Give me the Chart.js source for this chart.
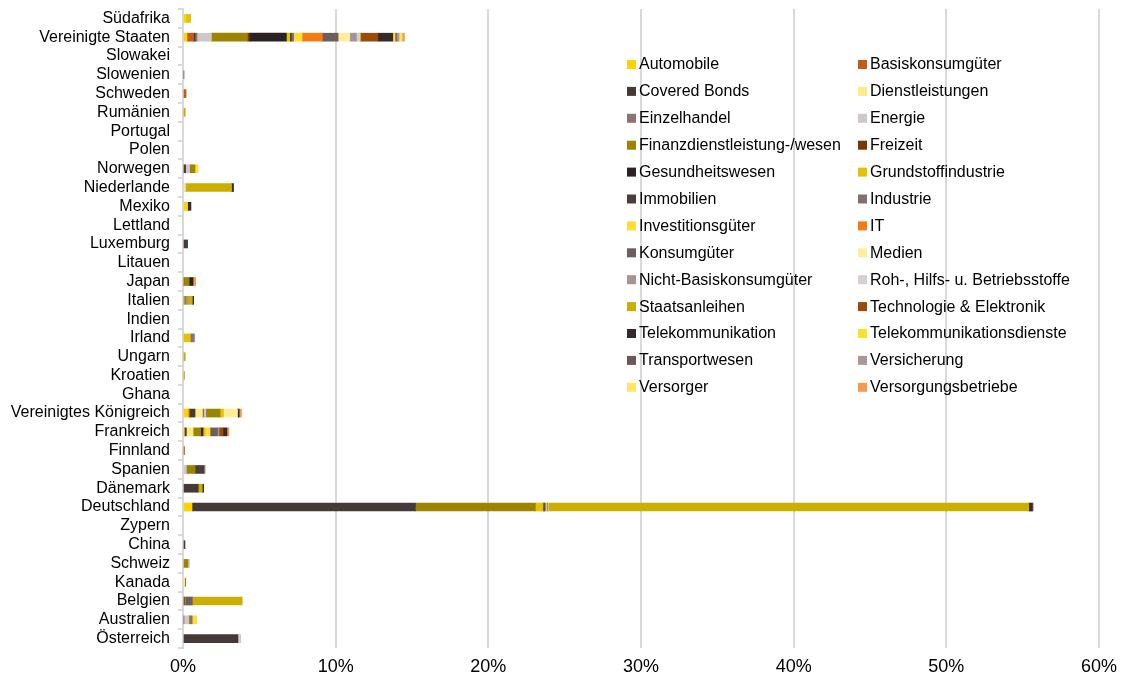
<!DOCTYPE html>
<html>
<head>
<meta charset="utf-8">
<script src="https://cdn.jsdelivr.net/npm/chart.js@4"></script>
<style>
  body { margin: 0; background: #fff; }
</style>
</head>
<body>
<canvas id="chart" width="1129" height="682"></canvas>
<script>
// Länder, von oben nach unten
const countries = ['Südafrika', 'Vereinigte Staaten', 'Slowakei', 'Slowenien', 'Schweden', 'Rumänien', 'Portugal', 'Polen', 'Norwegen', 'Niederlande',
  'Mexiko', 'Lettland', 'Luxemburg', 'Litauen', 'Japan', 'Italien', 'Indien', 'Irland', 'Ungarn', 'Kroatien',
  'Ghana', 'Vereinigtes Königreich', 'Frankreich', 'Finnland', 'Spanien', 'Dänemark', 'Deutschland', 'Zypern', 'China', 'Schweiz',
  'Kanada', 'Belgien', 'Australien', 'Österreich'];

const xTicks = [0, 10, 20, 30, 40, 50, 60];

// Anteile in %, je Sektor (gleiche Reihenfolge wie countries)
const automobile = [0.2, 0.26, 0, 0, 0, 0, 0, 0, 0, 0, 0.3, 0, 0, 0, 0, 0, 0, 0, 0, 0, 0, 0.35, 0.09, 0, 0, 0, 0.59, 0, 0, 0, 0, 0, 0, 0];
const basiskonsumgueter = [0, 0.44, 0, 0, 0.2, 0, 0, 0, 0, 0, 0, 0, 0, 0, 0.07, 0, 0, 0, 0, 0, 0, 0.09, 0, 0.1, 0, 0, 0, 0, 0, 0, 0, 0, 0, 0];
const coveredBonds = [0, 0.09, 0, 0, 0, 0, 0, 0, 0.17, 0, 0, 0, 0.3, 0, 0, 0, 0, 0, 0, 0, 0, 0.35, 0.13, 0, 0, 1.0, 14.63, 0, 0.13, 0, 0, 0.09, 0, 3.6];
const dienstleistungen = [0, 0, 0, 0, 0, 0, 0, 0, 0, 0.13, 0, 0, 0, 0, 0, 0, 0, 0, 0, 0, 0, 0.48, 0.44, 0, 0, 0, 0, 0, 0, 0, 0.11, 0, 0, 0];
const einzelhandel = [0, 0.13, 0, 0, 0, 0, 0, 0, 0, 0, 0, 0, 0, 0, 0, 0, 0, 0, 0, 0, 0, 0.09, 0, 0, 0, 0, 0, 0, 0, 0, 0, 0, 0.05, 0];
const energie = [0, 0.94, 0, 0, 0, 0, 0, 0, 0.26, 0.05, 0, 0, 0, 0, 0, 0.05, 0, 0, 0, 0, 0, 0.13, 0, 0, 0.22, 0, 0, 0, 0, 0, 0, 0, 0.33, 0];
const finanz = [0, 2.36, 0, 0, 0, 0, 0, 0, 0.35, 0, 0, 0, 0, 0, 0.33, 0.13, 0, 0, 0, 0, 0, 0.94, 0.5, 0, 0.57, 0, 7.86, 0, 0, 0.33, 0.07, 0, 0.09, 0];
const freizeit = [0, 0.13, 0, 0, 0, 0, 0, 0, 0, 0, 0, 0, 0, 0, 0, 0, 0, 0, 0, 0, 0, 0, 0, 0, 0, 0, 0, 0, 0, 0, 0, 0, 0, 0];
const gesundheitswesen = [0, 2.42, 0, 0, 0, 0, 0, 0, 0, 0, 0, 0, 0, 0, 0.26, 0, 0, 0, 0, 0, 0, 0, 0.15, 0, 0, 0, 0, 0, 0, 0, 0, 0, 0, 0];
const grundstoff = [0.3, 0.22, 0, 0, 0, 0, 0, 0, 0, 0, 0, 0, 0, 0, 0, 0, 0, 0.48, 0, 0, 0, 0.22, 0.13, 0, 0, 0, 0.5, 0, 0, 0, 0, 0.04, 0, 0];
const immobilien = [0, 0.11, 0, 0, 0, 0, 0, 0, 0, 0, 0, 0, 0, 0, 0, 0, 0, 0, 0, 0, 0, 0, 0, 0, 0.59, 0, 0.09, 0, 0, 0, 0, 0, 0, 0];
const industrie = [0, 0.15, 0, 0, 0, 0, 0, 0, 0, 0, 0, 0, 0, 0, 0, 0, 0, 0.2, 0, 0, 0, 0, 0, 0, 0, 0, 0.07, 0, 0, 0, 0, 0, 0.13, 0];
const investitionsgueter = [0, 0.55, 0, 0, 0, 0, 0, 0, 0.2, 0, 0, 0, 0, 0, 0, 0, 0, 0, 0, 0, 0, 0, 0.33, 0, 0, 0, 0.07, 0, 0, 0, 0, 0, 0.3, 0];
const it = [0, 1.33, 0, 0, 0, 0, 0, 0, 0, 0, 0, 0, 0, 0, 0, 0, 0, 0, 0, 0, 0, 0, 0, 0, 0, 0, 0, 0, 0, 0, 0, 0, 0, 0];
const konsumgueter = [0, 1.03, 0, 0, 0, 0, 0, 0, 0, 0, 0, 0, 0, 0, 0, 0, 0, 0, 0, 0, 0, 0, 0.48, 0, 0, 0, 0.05, 0, 0, 0, 0, 0.48, 0, 0];
const medien = [0, 0.76, 0, 0, 0, 0, 0, 0, 0, 0, 0, 0, 0, 0, 0, 0, 0, 0, 0, 0, 0, 0.92, 0, 0, 0, 0, 0, 0, 0, 0, 0, 0, 0, 0];
const nichtBasis = [0, 0.44, 0, 0, 0, 0, 0, 0, 0, 0, 0, 0, 0, 0, 0, 0.13, 0, 0.09, 0, 0, 0, 0, 0.11, 0, 0, 0, 0, 0, 0, 0, 0, 0, 0, 0];
const rohstoffe = [0, 0.22, 0, 0, 0, 0, 0, 0, 0, 0, 0, 0, 0, 0, 0, 0, 0, 0, 0, 0, 0, 0, 0, 0, 0, 0, 0.07, 0, 0, 0.11, 0, 0, 0, 0.11];
const staatsanleihen = [0, 0.05, 0, 0, 0, 0.15, 0, 0, 0, 3.0, 0, 0, 0, 0, 0, 0.3, 0, 0, 0.15, 0.1, 0, 0, 0, 0, 0, 0.26, 31.47, 0, 0, 0, 0, 3.27, 0, 0];
const technologie = [0, 1.13, 0, 0, 0, 0, 0, 0, 0, 0, 0, 0, 0, 0, 0, 0, 0, 0, 0, 0, 0, 0, 0.26, 0, 0, 0, 0, 0, 0, 0, 0, 0, 0, 0];
const telekom = [0, 0.98, 0, 0, 0, 0, 0, 0, 0, 0.13, 0.22, 0, 0, 0, 0, 0.09, 0, 0, 0, 0, 0, 0.11, 0.26, 0, 0, 0.09, 0.24, 0, 0, 0, 0, 0, 0, 0];
const telekomDienste = [0, 0.15, 0, 0, 0, 0, 0, 0, 0, 0, 0, 0, 0, 0, 0, 0, 0, 0, 0, 0, 0, 0, 0, 0, 0, 0, 0, 0, 0, 0, 0, 0, 0, 0];
const transportwesen = [0, 0.09, 0, 0.05, 0, 0, 0, 0, 0, 0, 0, 0, 0, 0, 0, 0, 0, 0, 0, 0, 0, 0, 0, 0, 0, 0, 0, 0, 0, 0, 0, 0, 0, 0];
const versicherung = [0, 0.17, 0, 0, 0, 0, 0, 0, 0, 0, 0, 0, 0, 0, 0, 0, 0, 0, 0, 0, 0, 0, 0, 0, 0.07, 0, 0.06, 0, 0, 0, 0, 0, 0, 0.04];
const versorger = [0, 0.2, 0, 0, 0, 0, 0, 0, 0, 0, 0, 0, 0, 0, 0, 0, 0, 0, 0, 0, 0, 0, 0, 0, 0, 0, 0, 0, 0, 0, 0, 0, 0, 0];
const versorgungsbetriebe = [0, 0.15, 0, 0, 0, 0, 0, 0, 0, 0, 0, 0, 0, 0, 0.17, 0, 0, 0, 0, 0, 0, 0.15, 0.13, 0, 0, 0, 0, 0, 0, 0, 0, 0, 0, 0];

const sectors = [
  ['Automobile', automobile, '#FFD200'],
  ['Basiskonsumgüter', basiskonsumgueter, '#C55A11'],
  ['Covered Bonds', coveredBonds, '#453A38'],
  ['Dienstleistungen', dienstleistungen, '#FFEB84'],
  ['Einzelhandel', einzelhandel, '#8C7474'],
  ['Energie', energie, '#D0C8C8'],
  ['Finanzdienstleistung-/wesen', finanz, '#9C8400'],
  ['Freizeit', freizeit, '#7A3600'],
  ['Gesundheitswesen', gesundheitswesen, '#2B2323'],
  ['Grundstoffindustrie', grundstoff, '#E5C200'],
  ['Immobilien', immobilien, '#4A3E3E'],
  ['Industrie', industrie, '#857070'],
  ['Investitionsgüter', investitionsgueter, '#FFDD33'],
  ['IT', it, '#F47A14'],
  ['Konsumgüter', konsumgueter, '#6E5E5E'],
  ['Medien', medien, '#FFEE99'],
  ['Nicht-Basiskonsumgüter', nichtBasis, '#A59494'],
  ['Roh-, Hilfs- u. Betriebsstoffe', rohstoffe, '#D8D0D0'],
  ['Staatsanleihen', staatsanleihen, '#CCAE00'],
  ['Technologie & Elektronik', technologie, '#9A4A0A'],
  ['Telekommunikation', telekom, '#352A2A'],
  ['Telekommunikationsdienste', telekomDienste, '#FFDF2A'],
  ['Transportwesen', transportwesen, '#6B5858'],
  ['Versicherung', versicherung, '#A89898'],
  ['Versorger', versorger, '#FFE566'],
  ['Versorgungsbetriebe', versorgungsbetriebe, '#F79A50']
];

const FONT = '"Liberation Sans", Arial, sans-serif';

// Legende liegt in Excel über der Zeichenfläche, zwei Spalten
const overlayLegend = {
  id: 'overlayLegend',
  afterDraw(chart) {
    const ctx = chart.ctx;
    ctx.save();
    ctx.font = '16px ' + FONT;
    ctx.textBaseline = 'middle';
    chart.data.datasets.forEach((ds, i) => {
      const x = 627 + (i % 2) * 231;
      const y = 64 + Math.floor(i / 2) * 26.9;
      ctx.fillStyle = ds.backgroundColor;
      ctx.fillRect(x, y - 4, 9, 9);
      ctx.fillStyle = '#000';
      ctx.fillText(ds.label, x + 12, y + 1);
    });
    ctx.restore();
  }
};

new Chart(document.getElementById('chart'), {
  type: 'bar',
  data: {
    labels: countries,
    datasets: sectors.map(([label, data, color]) => ({
      label: label,
      data: data.map(v => v || null),  // leere Segmente nicht zeichnen
      backgroundColor: color,
      borderWidth: 0,
      barThickness: 8
    }))
  },
  options: {
    indexAxis: 'y',
    responsive: false,
    animation: false,
    devicePixelRatio: 1,
    layout: { padding: { top: 9, right: 30, left: 0, bottom: 0 } },
    plugins: {
      legend: { display: false },
      tooltip: { enabled: false }
    },
    scales: {
      x: {
        stacked: true,
        min: 0,
        max: 60,
        afterBuildTicks: (scale) => { scale.ticks = xTicks.map(v => ({ value: v })); },
        afterFit: (scale) => { scale.height = 34; },
        grid: { color: '#D9D9D9', lineWidth: 2, drawTicks: false },
        border: { display: false },
        ticks: {
          padding: 8,
          color: '#000',
          font: { size: 18, family: FONT },
          callback: (v) => v + '%'
        }
      },
      y: {
        stacked: true,
        afterFit: (scale) => {
          scale.width = 183;
          scale.paddingTop = 0;
          scale.paddingBottom = 0;
        },
        grid: { color: '#D9D9D9', lineWidth: 2, drawOnChartArea: false, tickLength: 5 },
        border: { color: '#D9D9D9', width: 2 },
        ticks: {
          padding: 8,
          color: '#000',
          autoSkip: false,
          font: { size: 16, family: FONT }
        }
      }
    }
  },
  plugins: [overlayLegend]
});
</script>
</body>
</html>
